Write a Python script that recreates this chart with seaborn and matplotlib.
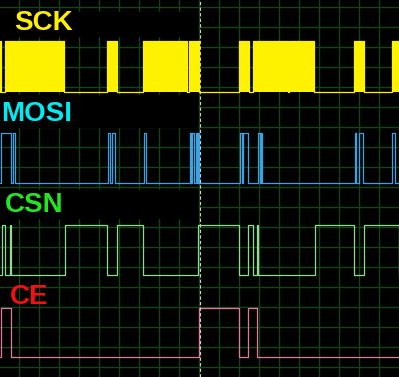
import numpy as np
import pandas as pd
import matplotlib.pyplot as plt
import seaborn as sns

# channel names and label colours
channels = ["SCK", "MOSI", "CSN", "CE"]
label_colors = ["#fff000", "#00eaf0", "#22e622", "#f21010"]
line_colors = ["#fff200", "#3ba2e4", "#8edc8e", "#e07aa0"]

# high intervals (time units = screen samples, 0..399)
sck_high = [(0, 1), (5, 64), (107, 117), (143, 187), (189, 199), (239, 249),
            (253, 288), (289, 314), (354, 364), (392, 399)]
mosi_high = [(1, 11), (12.5, 15), (108, 110), (112, 115), (143.5, 146),
             (190, 191), (192, 194), (195.5, 197), (198, 199), (240, 242),
             (243, 248), (258, 259.5), (261, 262), (355, 356), (359, 363),
             (392, 395)]
csn_high = [(1.7, 5), (10, 11), (65, 107), (117, 143), (198, 239), (248, 253),
            (257, 258), (315, 354), (364, 399)]
ce_high = [(1, 11), (199, 239), (248, 257)]

t_end = 399

# where each trace sits on screen (low, high)
lanes = {"SCK": (91.5, 41), "MOSI": (183, 133), "CSN": (275, 225), "CE": (357, 308)}
label_pos = {"SCK": (14, 23), "MOSI": (1, 114), "CSN": (5, 205), "CE": (10, 297)}


def to_steps(intervals):
    t, lv = [0.0], [0]
    for a, b in intervals:
        t += [a, b]
        lv += [1, 0]
    t.append(t_end)
    lv.append(lv[-1])
    return np.array(t, dtype=float), np.array(lv)


rows = []
for name, ivs in zip(channels, [sck_high, mosi_high, csn_high, ce_high]):
    t, lv = to_steps(ivs)
    lo, hi = lanes[name]
    for ti, li in zip(t, lv):
        rows.append({"channel": name, "t": ti, "y": lo - li * (lo - hi), "level": li})
df = pd.DataFrame(rows)

sns.set_theme(style="dark")
plt.rcParams["font.family"] = ["Liberation Sans", "DejaVu Sans"]

fig = plt.figure(figsize=(3.99, 3.77), dpi=100, facecolor="black")
ax = fig.add_axes([0, 0, 1, 1])
ax.set_facecolor("black")

ax.set_xlim(0, 399)
ax.set_ylim(377, 0)
ax.set_xticks(np.arange(19, 400, 20))
ax.set_yticks(np.arange(7, 377, 20))
ax.grid(True, color="#154315", linewidth=1.0, alpha=1)
ax.tick_params(left=False, bottom=False, labelleft=False, labelbottom=False)
for s in ax.spines.values():
    s.set_visible(False)

# black boxes behind the labels
for y0, y1 in [(12, 36), (95, 127), (190, 218)]:
    ax.fill_between([0, 197], y0, y1, color="black", zorder=2)

for name, col in zip(channels, line_colors):
    d = df[df["channel"] == name]
    lo, hi = lanes[name]
    if name == "SCK":
        ax.fill_between(d["t"], lo, d["y"], step="post", color=col, linewidth=0, zorder=3)
    sns.lineplot(data=d, x="t", y="y", color=col, drawstyle="steps-post",
                 estimator=None, sort=False, linewidth=0.9, ax=ax, zorder=4)

# trigger marker
ax.axvline(200, color="#d0d0d0", linewidth=0.8, linestyle=(0, (3, 2)), zorder=5)

for name, col in zip(channels, label_colors):
    x, y = label_pos[name]
    ax.text(x, y, name, color=col, fontsize=20, fontweight="bold",
            ha="left", va="center", zorder=6)

ax.set_xlabel("")
ax.set_ylabel("")
fig.savefig("out.png", dpi=100, facecolor="black")
